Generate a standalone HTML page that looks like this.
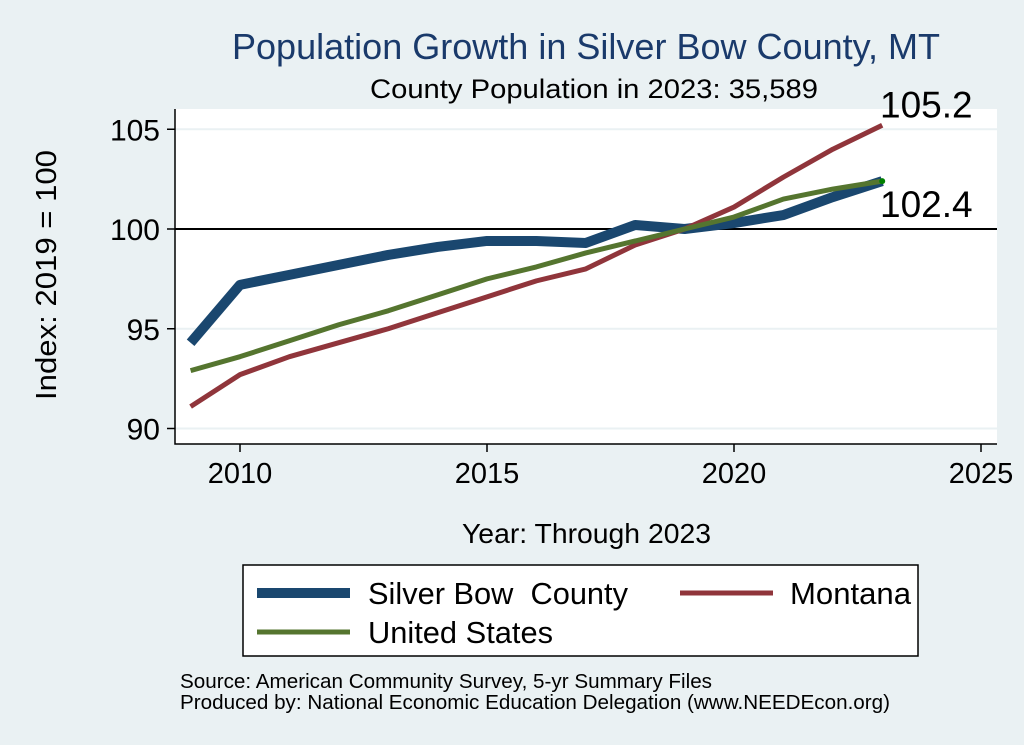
<!DOCTYPE html>
<html><head><meta charset="utf-8"><style>
body{margin:0;background:#eaf1f3;font-family:"Liberation Sans",sans-serif;}
svg{display:block}
text{white-space:pre}
</style></head><body>
<svg width="1024" height="745" xmlns="http://www.w3.org/2000/svg" font-family="Liberation Sans, sans-serif">
<rect width="1024" height="745" fill="#eaf1f3"/>
<text x="232" y="59" font-size="36" fill="#1a3a6b" textLength="708" lengthAdjust="spacingAndGlyphs">Population Growth in Silver Bow County, MT</text>
<text x="370" y="98" font-size="27" textLength="448" lengthAdjust="spacingAndGlyphs">County Population in 2023: 35,589</text>
<rect x="175" y="109" width="822" height="335" fill="#fff"/>
<g id="grid"></g>
<g id="axes"></g>
<g id="series"></g>
<text x="56" y="400" font-size="29" textLength="250" lengthAdjust="spacingAndGlyphs" transform="rotate(-90 56 400)">Index: 2019 = 100</text>
<text x="462" y="543" font-size="28" textLength="249" lengthAdjust="spacingAndGlyphs">Year: Through 2023</text>
<g>
<rect x="243" y="565" width="675" height="91" fill="#fff" stroke="#000" stroke-width="1.5"/>
<line x1="257" y1="593" x2="350" y2="593" stroke="#1a476f" stroke-width="10"/>
<text x="368" y="604" font-size="31" textLength="260" lengthAdjust="spacingAndGlyphs">Silver Bow  County</text>
<line x1="680" y1="593" x2="773" y2="593" stroke="#90353b" stroke-width="5"/>
<text x="790" y="604" font-size="31" textLength="121" lengthAdjust="spacingAndGlyphs">Montana</text>
<line x1="257" y1="632" x2="350" y2="632" stroke="#55752f" stroke-width="5"/>
<text x="368" y="643" font-size="31" textLength="185" lengthAdjust="spacingAndGlyphs">United States</text>
</g>
<text x="180" y="688" font-size="20" textLength="532" lengthAdjust="spacingAndGlyphs">Source: American Community Survey, 5-yr Summary Files</text>
<text x="180" y="709" font-size="20" textLength="710" lengthAdjust="spacingAndGlyphs">Produced by: National Economic Education Delegation (www.NEEDEcon.org)</text>
</svg>
<script>
const years=[2009,2010,2011,2012,2013,2014,2015,2016,2017,2018,2019,2020,2021,2022,2023];
const silverBow=[94.3,97.2,97.7,98.2,98.7,99.1,99.4,99.4,99.3,100.2,100.0,100.3,100.7,101.6,102.4];
const montana=[91.1,92.7,93.6,94.3,95.0,95.8,96.6,97.4,98.0,99.2,100.0,101.1,102.6,104.0,105.2];
const unitedStates=[92.9,93.6,94.4,95.2,95.9,96.7,97.5,98.1,98.8,99.4,100.0,100.6,101.5,102.0,102.4];
const yTicks=[90,95,100,105];
const xTicks=[2010,2015,2020,2025];
const NS="http://www.w3.org/2000/svg";
const X=v=>240+(v-2010)*49.4;
const Y=v=>229-(v-100)*19.95;
function mk(t,a,p){const e=document.createElementNS(NS,t);for(const k in a)e.setAttribute(k,a[k]);p.appendChild(e);return e;}
const grid=document.getElementById('grid'),axes=document.getElementById('axes'),ser=document.getElementById('series');
yTicks.forEach(v=>{
 const g=mk('line',{x1:175,x2:997,y1:Y(v),y2:Y(v),stroke:v===100?'#000':'#eaf1f3','stroke-width':2},grid);
 
 
 const t=mk('line',{x1:167,x2:175,y1:Y(v),y2:Y(v),stroke:'#000','stroke-width':1.5},axes);
 
 
 const l=mk('text',{x:160,y:Y(v)+11,'font-size':30,'text-anchor':'end'},axes);l.textContent=v;
 
 
});
const ax=mk('path',{d:'M175 109V444H997',fill:'none',stroke:'#000','stroke-width':1.5},axes);


xTicks.forEach(v=>{
 const t=mk('line',{x1:X(v),x2:X(v),y1:444,y2:452,stroke:'#000','stroke-width':1.5},axes);
 
 
 const l=mk('text',{x:X(v),y:483,'font-size':29,'text-anchor':'middle'},axes);l.textContent=v;
 
 
});
function line(vals,color,w,name){
 const p=mk('polyline',{points:vals.map((v,i)=>X(years[i])+','+Y(v)).join(' '),fill:'none',stroke:color,'stroke-width':w,'stroke-linejoin':'round'},ser);
 
 
}
line(silverBow,'#1a476f',10,'line-silver-bow');
line(montana,'#90353b',5,'line-montana');
line(unitedStates,'#55752f',5,'line-united-states');
const n=years.length-1;
const d=mk('circle',{cx:X(years[n]),cy:Y(unitedStates[n]),r:3,fill:'#008000'},ser);


const a1=mk('text',{x:880,y:Y(montana[n])-8,'font-size':37},ser);a1.textContent=montana[n].toFixed(1);


const a2=mk('text',{x:880,y:Y(silverBow[n])+36,'font-size':37},ser);a2.textContent=silverBow[n].toFixed(1);


</script>
</body></html>
